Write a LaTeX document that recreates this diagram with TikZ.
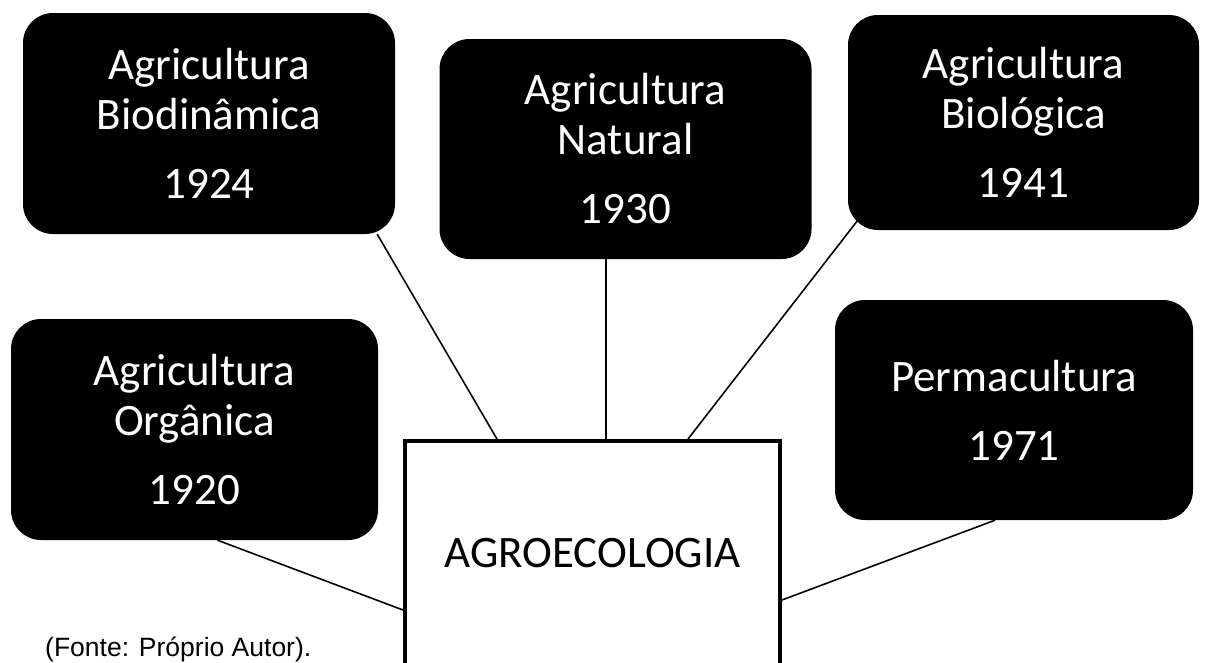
\documentclass[tikz,border=0pt]{standalone}
\usepackage{fontspec}
\setmainfont{Carlito}
\newfontfamily\fontefont{Liberation Sans}
\usetikzlibrary{calc,backgrounds}

\begin{document}
\begin{tikzpicture}[x=1pt,y=-1pt,
  era/.style={fill=black,text=white,rounded corners=30pt,inner sep=0pt,align=center,
    font=\fontsize{45}{50}\selectfont},
  hub/.style={draw=black,line width=4pt,fill=white,inner sep=0pt,
    font=\fontsize{45}{50}\selectfont},
  link/.style={line width=1.6pt}]
\useasboundingbox (0,0) rectangle (1206,662);
\clip (0,0) rectangle (1206,662);
% movimentos
\node[era,minimum width=372pt,minimum height=221pt] (bio) at (209,123.5) {Agricultura\\Biodinâmica\\[19pt]1924};
\node[era,minimum width=372pt,minimum height=220pt] (nat) at (625.5,149) {Agricultura\\Natural\\[19pt]1930};
\node[era,minimum width=351pt,minimum height=215pt] (biol) at (1023.5,122.5) {Agricultura\\Biológica\\[19pt]1941};
\node[era,minimum width=367pt,minimum height=221pt] (org) at (194.5,429.5) {Agricultura\\Orgânica\\[19pt]1920};
\node[era,minimum width=358pt,minimum height=220pt] (perm) at (1014,410) {Permacultura\\[19pt]1971};
% centro
\node[hub,minimum width=375pt,minimum height=224pt] (agro) at (592.5,553) {AGROECOLOGIA};
\node[anchor=base west,inner sep=0pt,font=\fontefont\fontsize{26.5}{30}\selectfont] (fonte) at (45,656) {(Fonte: Próprio Autor).};
% ligacoes
\coordinate (natfoot) at ($(nat.south)+(-19.5,0)$);
\begin{scope}[on background layer]
\draw[link] ($(bio.south east)+(-18,0)$) -- ($(agro.north west)+(94,0)$);
\draw[link] (natfoot) -- (natfoot |- agro.north);
\draw[link] ($(biol.south west)+(10,-10)$) -- ($(agro.north east)+(-94,0)$);
\draw[link] ($(org.south)+(23,0)$) -- ($(agro.west)+(0,57)$);
\draw[link] ($(perm.south)+(-19,0)$) -- ($(agro.east)+(0,47)$);
\end{scope}
\end{tikzpicture}
\end{document}
